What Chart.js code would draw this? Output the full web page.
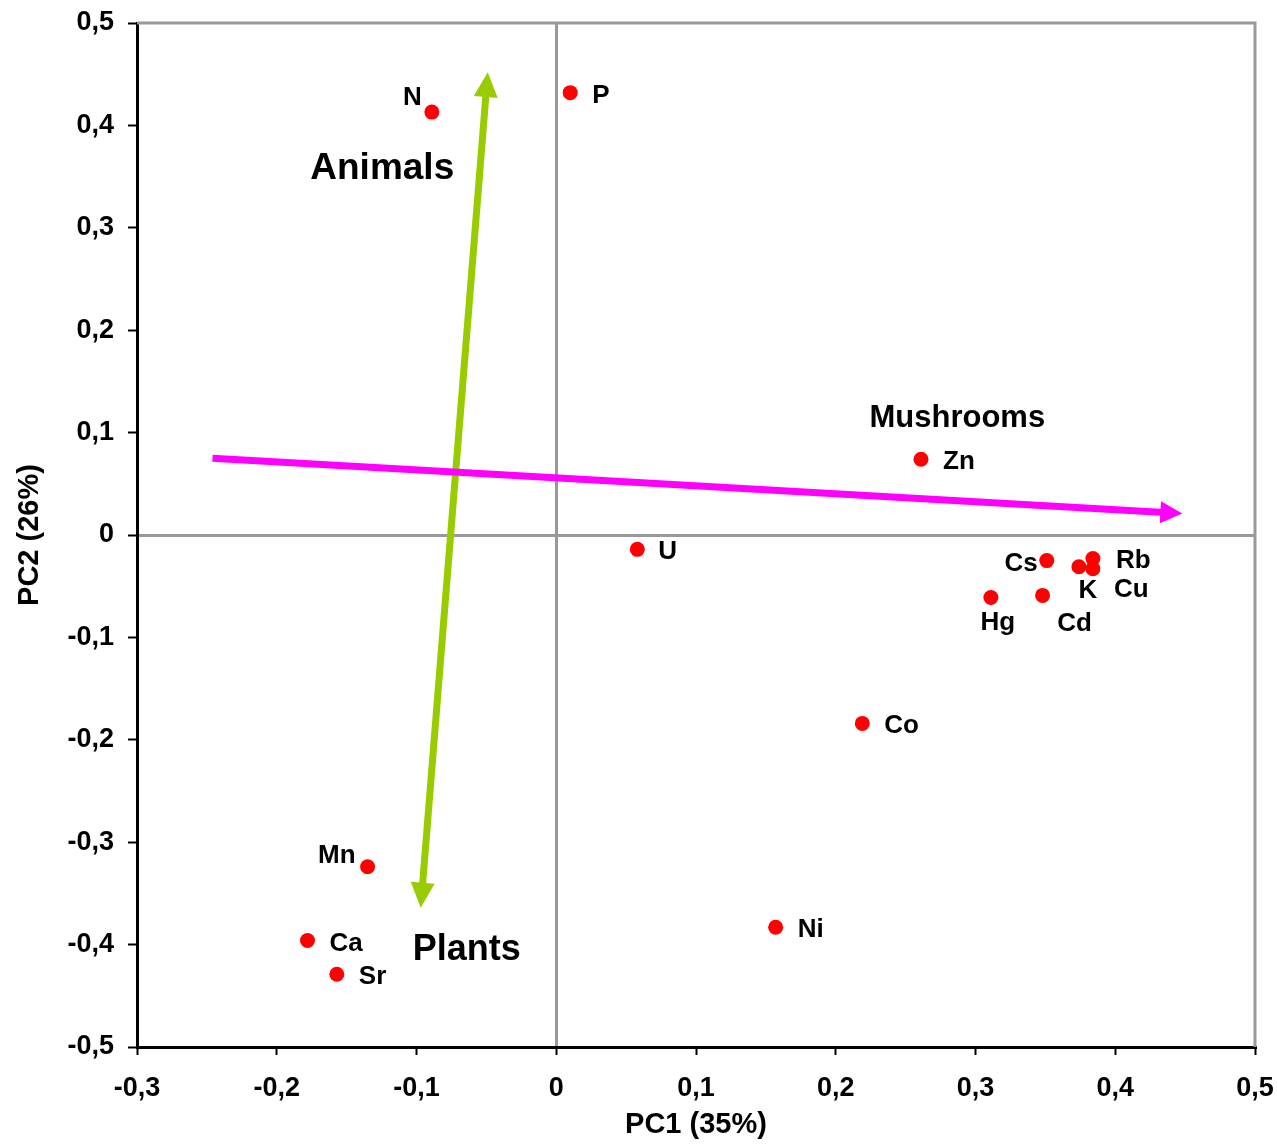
<!DOCTYPE html>
<html>
<head>
<meta charset="utf-8">
<script src="https://cdn.jsdelivr.net/npm/chart.js@4"></script>
<style>
  body { margin: 0; background: #fff; }
  #wrap { width: 1277px; height: 1145px; }
</style>
</head>
<body>
<div id="wrap"><canvas id="pca"></canvas></div>
<script>
// element loadings on the first two principal components
const elements = ['N', 'P', 'Zn', 'U', 'Cs', 'Rb', 'K', 'Cu', 'Hg', 'Cd', 'Co', 'Ni', 'Mn', 'Ca', 'Sr'];
const pc1 = [-0.089, 0.010, 0.261, 0.058, 0.351, 0.384, 0.374, 0.384, 0.311, 0.348, 0.219, 0.157, -0.135, -0.178, -0.157];
const pc2 = [0.413, 0.432, 0.074, -0.014, -0.025, -0.023, -0.031, -0.033, -0.061, -0.059, -0.184, -0.383, -0.324, -0.396, -0.429];

// direction arrows (data coords: [x, y])
const animalsPlantsArrow = [[-0.049, 0.452], [-0.097, -0.364]];
const mushroomsArrow = [[-0.246, 0.075], [0.448, 0.021]];

// group captions
const groupNames = ['Animals', 'Mushrooms', 'Plants'];
const groupX = [-0.1245, 0.287, -0.064];
const groupY = [0.358, 0.114, -0.405];

const FONT = '"Liberation Sans", Arial, sans-serif';

// where each element name sits next to its dot: [dx, dy, align]
const labelSpots = {
  N: [-10, -14, 'right'], P: [22, 3, 'left'], Zn: [22, 3, 'left'], U: [21, 2, 'left'],
  Cs: [-9, 3, 'right'], Rb: [23, 2, 'left'], K: [9, 24, 'center'], Cu: [21, 21, 'left'],
  Hg: [7, 25, 'center'], Cd: [32, 28, 'center'], Co: [22, 2, 'left'], Ni: [22, 3, 'left'],
  Mn: [-12, -11, 'right'], Ca: [22, 3, 'left'], Sr: [22, 3, 'left']
};

function fmt(v) {
  if (Math.abs(v) < 1e-9) return '0';
  return v.toFixed(1).replace('.', ',');
}

function arrowHead(ctx, from, to, len, half, color) {
  const ang = Math.atan2(to.y - from.y, to.x - from.x);
  ctx.save();
  ctx.translate(to.x, to.y);
  ctx.rotate(ang);
  ctx.beginPath();
  ctx.moveTo(0, 0);
  ctx.lineTo(-len, -half);
  ctx.lineTo(-len, half);
  ctx.closePath();
  ctx.fillStyle = color;
  ctx.fill();
  ctx.restore();
}

function shrink(a, b, len) {
  const d = Math.hypot(b.x - a.x, b.y - a.y);
  return { x: b.x - (b.x - a.x) * len / d, y: b.y - (b.y - a.y) * len / d };
}

const extras = {
  id: 'extras',
  afterDatasetsDraw(chart) {
    const { ctx, chartArea: ca } = chart;
    const xs = chart.scales.x, ys = chart.scales.y;
    const px = p => ({ x: xs.getPixelForValue(p[0]), y: ys.getPixelForValue(p[1]) });

    // grey top and right frame
    ctx.save();
    ctx.strokeStyle = '#999';
    ctx.lineWidth = 3;
    ctx.beginPath();
    ctx.moveTo(ca.left, ca.top);
    ctx.lineTo(ca.right, ca.top);
    ctx.lineTo(ca.right, ca.bottom);
    ctx.stroke();

    // green double arrow
    let a = px(animalsPlantsArrow[0]), b = px(animalsPlantsArrow[1]);
    ctx.strokeStyle = '#99cc00';
    ctx.lineWidth = 7;
    let s1 = shrink(b, a, 20), s2 = shrink(a, b, 20);
    ctx.beginPath(); ctx.moveTo(s1.x, s1.y); ctx.lineTo(s2.x, s2.y); ctx.stroke();
    arrowHead(ctx, b, a, 25, 12, '#99cc00');
    arrowHead(ctx, a, b, 25, 12, '#99cc00');

    // magenta arrow
    a = px(mushroomsArrow[0]); b = px(mushroomsArrow[1]);
    ctx.strokeStyle = '#ff00ff';
    s2 = shrink(a, b, 18);
    ctx.beginPath(); ctx.moveTo(a.x, a.y); ctx.lineTo(s2.x, s2.y); ctx.stroke();
    arrowHead(ctx, a, b, 22, 11, '#ff00ff');

    // element names
    ctx.fillStyle = '#000';
    ctx.textBaseline = 'middle';
    ctx.font = 'bold 26px ' + FONT;
    elements.forEach((name, i) => {
      const p = px([pc1[i], pc2[i]]);
      const s = labelSpots[name] || [20, 0, 'left'];
      ctx.textAlign = s[2];
      ctx.fillText(name, p.x + s[0], p.y + s[1]);
    });

    // group captions
    ctx.textAlign = 'center';
    const sizes = { Animals: 37, Mushrooms: 31, Plants: 36 };
    groupNames.forEach((g, i) => {
      const p = px([groupX[i], groupY[i]]);
      ctx.font = 'bold ' + sizes[g] + 'px ' + FONT;
      ctx.fillText(g, p.x, p.y);
    });
    ctx.restore();
  }
};

const zeroGrid = c => (c.tick && Math.abs(c.tick.value) < 1e-9) ? '#999' : 'rgba(0,0,0,0)';

new Chart(document.getElementById('pca'), {
  type: 'scatter',
  data: {
    datasets: [{
      data: pc1.map((x, i) => ({ x: x, y: pc2[i] })),
      backgroundColor: '#ff0000',
      borderWidth: 0,
      pointRadius: 7.5,
      pointHoverRadius: 7.5
    }]
  },
  options: {
    responsive: true,
    maintainAspectRatio: false,
    animation: false,
    layout: { padding: { top: 23, right: 22, left: 0, bottom: 0 } },
    plugins: { legend: { display: false }, tooltip: { enabled: false } },
    scales: {
      x: {
        type: 'linear',
        min: -0.3, max: 0.5,
        afterFit(scale) { scale.height = 98; scale.paddingLeft = 0; scale.paddingRight = 0; },
        ticks: { stepSize: 0.1, callback: fmt, color: '#000', padding: 17, maxRotation: 0,
                 font: { family: FONT, size: 27, weight: 'bold' } },
        grid: { color: zeroGrid, lineWidth: 3, tickColor: '#000', tickLength: 8, tickWidth: 2 },
        border: { color: '#000', width: 3 },
        title: { display: true, text: 'PC1 (35%)', color: '#000', padding: { top: 0, bottom: 3 },
                 font: { family: FONT, size: 29, weight: 'bold' } }
      },
      y: {
        type: 'linear',
        min: -0.5, max: 0.5,
        afterFit(scale) { scale.width = 137; scale.paddingTop = 0; scale.paddingBottom = 0; },
        ticks: { stepSize: 0.1, callback: fmt, color: '#000', padding: 14,
                 font: { family: FONT, size: 27, weight: 'bold' } },
        grid: { color: zeroGrid, lineWidth: 3, tickColor: '#000', tickLength: 9, tickWidth: 2 },
        border: { color: '#000', width: 3 },
        title: { display: true, text: 'PC2 (26%)', color: '#000', padding: { top: 13, bottom: 0 },
                 font: { family: FONT, size: 29, weight: 'bold' } }
      }
    }
  },
  plugins: [extras]
});
</script>
</body>
</html>
